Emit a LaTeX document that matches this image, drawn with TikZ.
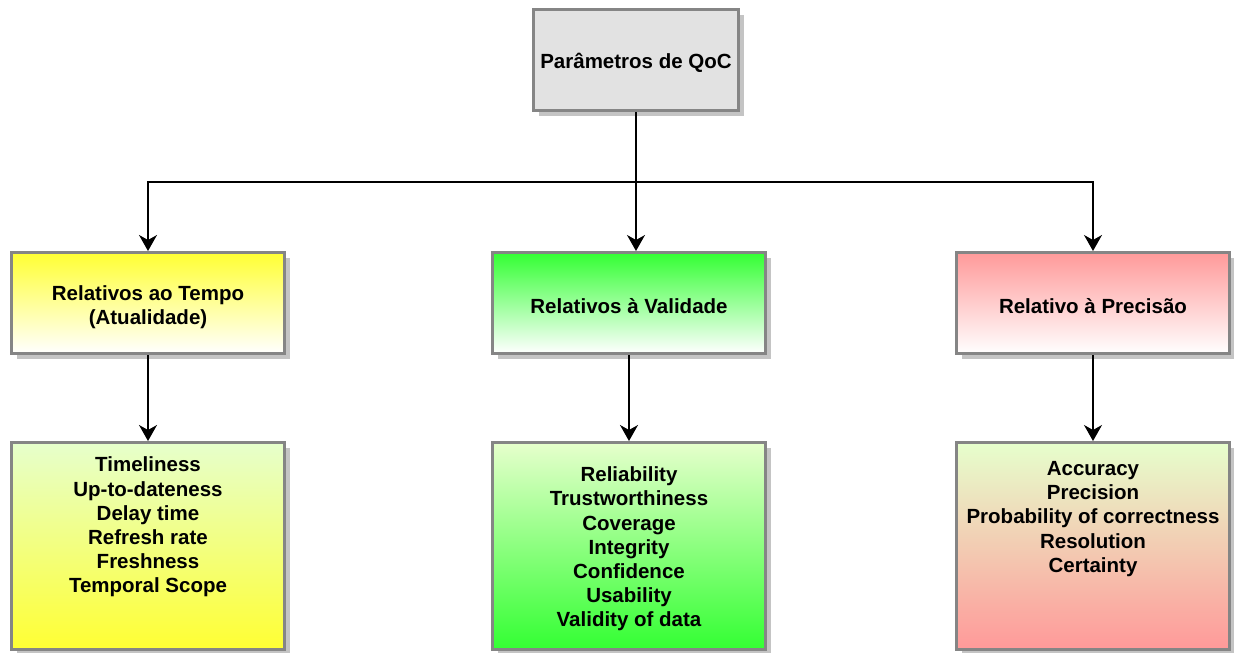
\documentclass[tikz,border=0pt]{standalone}
\usepackage{fontspec}
\setmainfont{Liberation Sans}
\usetikzlibrary{arrows.meta,shadows}

\definecolor{boxedge}{HTML}{858585}
\definecolor{shadowgray}{HTML}{C4C4C4}
\definecolor{topfill}{HTML}{E2E2E2}
\definecolor{yel}{HTML}{FFFF33}
\definecolor{grn}{HTML}{33FF33}
\definecolor{pnk}{HTML}{FF9999}
\definecolor{pale}{HTML}{E6FFCC}

\tikzset{
  box/.style={draw=boxedge, line width=3pt, rectangle, inner sep=0pt,
    drop shadow={shadow xshift=5pt, shadow yshift=-5pt, fill=shadowgray, opacity=1}},
  headbox/.style={box, minimum width=205pt, minimum height=101pt, fill=topfill},
  groupbox/.style={box, minimum width=273pt, minimum height=101pt},
  listbox/.style={box, minimum width=273pt, minimum height=207pt},
  lbl/.style={align=center, inner sep=0pt,
    font=\fontsize{20.5}{24.2}\selectfont\bfseries},
  arr/.style={line width=1.5pt, -{Stealth[length=16pt, width=18pt, inset=5pt]}},
}

\begin{document}
\begin{tikzpicture}[x=1pt, y=-1pt]
  \useasboundingbox (0,0) rectangle (1234,653);

  % root
  \node[headbox] (root) at (636,60) {};
  \node[lbl] (rootT) at (636,63) {Parâmetros de QoC};

  % second level
  \node[groupbox, top color=yel, bottom color=white] (tempo) at (148,303) {};
  \node[lbl] (tempoT) at (148,307) {Relativos ao Tempo\\(Atualidade)};

  \node[groupbox, top color=grn, bottom color=white] (valid) at (629,303) {};
  \node[lbl] (validT) at (629,306) {Relativos à Validade};

  \node[groupbox, top color=pnk, bottom color=white] (prec) at (1093,303) {};
  \node[lbl] (precT) at (1093,306) {Relativo à Precisão};

  % third level
  \node[listbox, top color=pale, bottom color=yel] (tempoL) at (148,546) {};
  \node[lbl] (tempoLT) at (148,527) {Timeliness\\Up-to-dateness\\Delay time\\Refresh rate\\Freshness\\Temporal Scope};

  \node[listbox, top color=pale, bottom color=grn] (validL) at (629,546) {};
  \node[lbl] (validLT) at (629,549) {Reliability\\Trustworthiness\\Coverage\\Integrity\\Confidence\\Usability\\Validity of data};

  \node[listbox, top color=pale, bottom color=pnk] (precL) at (1093,546) {};
  \node[lbl] (precLT) at (1093,519) {Accuracy\\Precision\\Probability of correctness\\Resolution\\Certainty};

  % connectors
  \coordinate (bar) at (636,182);
  \draw[line width=1.5pt] (root.south) -- (root.south |- bar);
  \draw[arr] (root.south |- bar) -| (tempo.north);
  \draw[arr] (root.south |- bar) -| (prec.north);
  \draw[arr] (root.south) -- (root.south |- valid.north);

  \draw[arr] (tempo.south) -- (tempoL.north);
  \draw[arr] (valid.south) -- (validL.north);
  \draw[arr] (prec.south) -- (precL.north);
\end{tikzpicture}
\end{document}
